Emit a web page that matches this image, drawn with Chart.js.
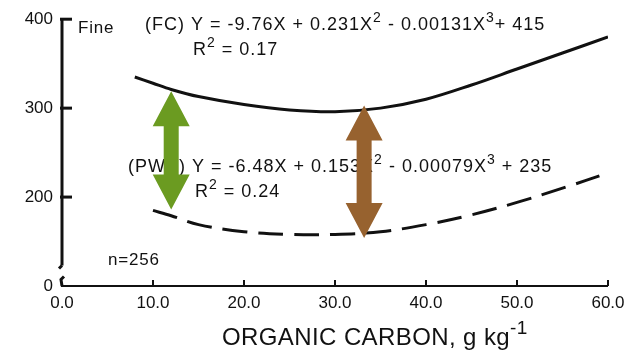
<!DOCTYPE html>
<html>
<head>
<meta charset="utf-8">
<script src="https://cdn.jsdelivr.net/npm/chart.js@4.4.0/dist/chart.umd.min.js"></script>
<style>
  html, body { margin: 0; padding: 0; background: #fff; }
</style>
</head>
<body>
<canvas id="chart" width="641" height="350"></canvas>
<script>
// curve data
const fcX = [8, 10, 12, 15, 20, 25, 30, 35, 40, 45, 50, 55, 60];
const fcY = [335, 328, 321, 313, 304, 298, 296, 300, 310, 326, 344, 362, 380];
const pwpX = [10, 12, 15, 20, 25, 30, 35, 40, 45, 50, 55, 60];
const pwpY = [185, 179, 169, 161, 158, 158, 161, 169, 180, 194, 210, 227];

// ticks (y=100 is where the broken axis shows "0")
const xTicks = [0, 10, 20, 30, 40, 50, 60];
const yTicks = [100, 200, 300, 400];
const yTickLabels = ['0', '200', '300', '400'];

// double arrows
const arrowX = [12, 33.2];
const arrowTop = [319, 303];
const arrowBottom = [186, 154];
const arrowColors = ['#6b9b21', '#97622f'];

const FONT = '"Liberation Sans", Arial, Helvetica, sans-serif';
const INK = '#111';

// text with superscripts: parts is a list of strings, [string] = superscript
function richText(ctx, parts, x, y, size, spacing) {
    ctx.save();
    ctx.fillStyle = INK;
    ctx.textBaseline = 'alphabetic';
    ctx.textAlign = 'left';
    ctx.letterSpacing = (spacing || 0) + 'px';
    parts.forEach(p => {
        const sup = Array.isArray(p);
        const t = sup ? p[0] : p;
        const s = sup ? Math.round(size * 0.8) : size;
        ctx.font = s + 'px ' + FONT;
        ctx.fillText(t, x, sup ? y - size * 0.45 : y);
        x += ctx.measureText(t).width;
    });
    ctx.restore();
}

function line(ctx, pts) {
    ctx.beginPath();
    ctx.moveTo(pts[0][0], pts[0][1]);
    for (let i = 1; i < pts.length; i++) ctx.lineTo(pts[i][0], pts[i][1]);
    ctx.stroke();
}

function drawArrow(ctx, x, y1, y2, color) {
    const headL = 35, headW = 37, shaftW = 15;
    ctx.save();
    ctx.fillStyle = color;
    ctx.beginPath();
    ctx.moveTo(x, y1);
    ctx.lineTo(x + headW / 2, y1 + headL);
    ctx.lineTo(x + shaftW / 2, y1 + headL);
    ctx.lineTo(x + shaftW / 2, y2 - headL);
    ctx.lineTo(x + headW / 2, y2 - headL);
    ctx.lineTo(x, y2);
    ctx.lineTo(x - headW / 2, y2 - headL);
    ctx.lineTo(x - shaftW / 2, y2 - headL);
    ctx.lineTo(x - shaftW / 2, y1 + headL);
    ctx.lineTo(x - headW / 2, y1 + headL);
    ctx.closePath();
    ctx.fill();
    ctx.restore();
}

// axes with the break, annotations and arrows
const decor = {
    id: 'decor',
    afterDatasetsDraw(chart) {
        const ctx = chart.ctx;
        const xs = chart.scales.x, ys = chart.scales.y;
        const left = xs.getPixelForValue(xTicks[0]);
        const right = xs.getPixelForValue(xTicks[xTicks.length - 1]);
        const bottom = ys.getPixelForValue(yTicks[0]);
        const top = ys.getPixelForValue(yTicks[yTicks.length - 1]);
        const breakY = ys.getPixelForValue(123);

        ctx.save();
        ctx.strokeStyle = INK;
        ctx.lineWidth = 3;
        ctx.lineCap = 'butt';
        // y axis down to the break
        line(ctx, [[left, top], [left, breakY]]);
        line(ctx, [[left, breakY], [left - 3, breakY + 3]]);
        line(ctx, [[left + 2, breakY + 11], [left - 1, breakY + 14], [left, bottom]]);
        yTicks.slice(1).forEach(v => {
            const y = ys.getPixelForValue(v);
            line(ctx, [[left - 2, y], [left + 10, y]]);
        });
        // x axis
        ctx.lineWidth = 2;
        line(ctx, [[left - 1, bottom], [right, bottom]]);
        xTicks.slice(1).forEach(v => {
            const x = xs.getPixelForValue(v);
            line(ctx, [[x, bottom], [x, bottom - 6]]);
        });
        ctx.restore();

        // annotations
        richText(ctx, ['Fine'], 78, 33, 17, 0.8);
        richText(ctx, ['(FC) Y = -9.76X + 0.231X', ['2'], ' - 0.00131X', ['3'], '+ 415'], 145, 30, 18, 1);
        richText(ctx, ['R', ['2'], ' = 0.17'], 193, 55, 18, 1);
        richText(ctx, ['(PWP) Y = -6.48X + 0.153X', ['2'], ' - 0.00079X', ['3'], ' + 235'], 128, 172, 18, 1);
        richText(ctx, ['R', ['2'], ' = 0.24'], 195, 197, 18, 1);
        richText(ctx, ['n=256'], 108, 265, 17, 0.8);
        richText(ctx, ['ORGANIC CARBON, g kg', ['-1']], 222, 345, 24, 0.4);

        // arrows
        arrowX.forEach((v, i) => {
            drawArrow(ctx, xs.getPixelForValue(v),
                ys.getPixelForValue(arrowTop[i]),
                ys.getPixelForValue(arrowBottom[i]),
                arrowColors[i]);
        });
    }
};

new Chart(document.getElementById('chart'), {
    type: 'line',
    data: {
        datasets: [
            {
                label: 'FC',
                data: fcX.map((x, i) => ({ x: x, y: fcY[i] })),
                borderColor: INK,
                borderWidth: 3,
                pointRadius: 0,
                tension: 0.35,
                fill: false
            },
            {
                label: 'PWP',
                data: pwpX.map((x, i) => ({ x: x, y: pwpY[i] })),
                borderColor: INK,
                borderWidth: 3,
                borderDash: [25, 11],
                pointRadius: 0,
                tension: 0.35,
                fill: false
            }
        ]
    },
    options: {
        responsive: false,
        animation: false,
        devicePixelRatio: 1,
        layout: { padding: { top: 14, right: 33, bottom: 0, left: 0 } },
        plugins: {
            legend: { display: false },
            tooltip: { enabled: false }
        },
        scales: {
            x: {
                type: 'linear',
                min: 0,
                max: 60,
                grid: { display: false, drawTicks: false },
                border: { display: false },
                afterBuildTicks: s => { s.ticks = xTicks.map(v => ({ value: v })); },
                afterFit: s => { s.height = 64; },
                ticks: {
                    color: INK,
                    padding: 7,
                    maxRotation: 0,
                    font: { family: FONT, size: 17 },
                    callback: v => v.toFixed(1)
                }
            },
            y: {
                type: 'linear',
                min: 100,
                max: 400,
                grid: { display: false, drawTicks: false },
                border: { display: false },
                afterBuildTicks: s => { s.ticks = yTicks.map(v => ({ value: v })); },
                afterFit: s => { s.width = 62; },
                ticks: {
                    color: INK,
                    padding: 9,
                    font: { family: FONT, size: 17 },
                    callback: v => yTickLabels[yTicks.indexOf(v)]
                }
            }
        }
    },
    plugins: [decor]
});
</script>
</body>
</html>
